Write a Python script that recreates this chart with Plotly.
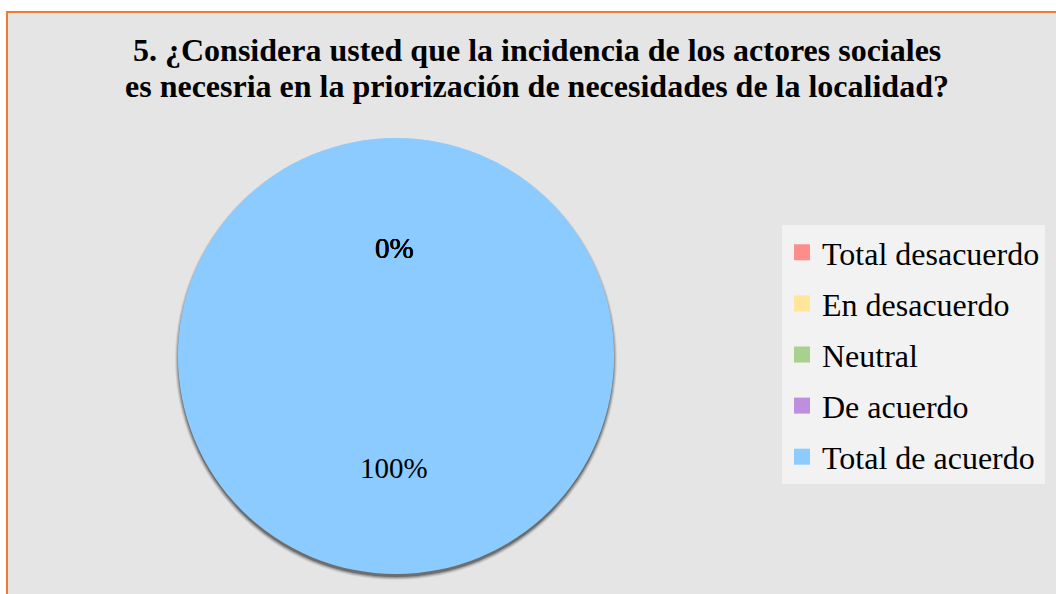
import plotly.graph_objects as go

# Datos de la pregunta 5
categorias = ['Total desacuerdo', 'En desacuerdo', 'Neutral', 'De acuerdo', 'Total de acuerdo']
valores = [0, 0, 0, 0, 100]
colores = ['#FF8C8C', '#FFE699', '#A9D18E', '#BF8FDF', '#8BCBFF']
titulo = ['5. ¿Considera usted que la incidencia de los actores sociales',
          'es necesria en la priorización de necesidades de la localidad?']

W, H = 1056, 594
fuente = 'Liberation Serif'

# centro y radio del pastel en pixeles
cx, cy, r = 396, 356, 218

total = sum(valores)
porcentajes = ['{:.0f}%'.format(v / total * 100) for v in valores]

fig = go.Figure()

fig.add_trace(go.Pie(
    labels=categorias,
    values=valores,
    sort=False,
    direction='clockwise',
    marker=dict(colors=colores, line=dict(width=0)),
    textinfo='none',
    hoverinfo='skip',
    showlegend=False,
    domain=dict(x=[(cx - r) / W, (cx + r) / W],
                y=[(H - cy - r) / H, (H - cy + r) / H]),
))

# entradas de la leyenda (una por categoría, separadas como en Excel)
for cat, c in zip(categorias, colores):
    fig.add_trace(go.Scatter(
        x=[None], y=[None], mode='markers', name=cat, legendgroup=cat,
        marker=dict(symbol='square', size=16, color=c, line=dict(width=0)),
        hoverinfo='skip',
    ))

shapes = [
    # fondo del gráfico con borde naranja
    dict(type='rect', xref='paper', yref='paper', layer='below',
         x0=7 / W, x1=1.02, y0=-0.02, y1=1 - 12 / H,
         fillcolor='#E5E5E5', line=dict(color='#ED7D31', width=2)),
]
# sombra del pastel
for i, op in enumerate([0.08, 0.12, 0.18, 0.28]):
    rr = r + 3 - i
    shapes.append(dict(type='circle', xref='paper', yref='paper', layer='below',
                       x0=(cx - rr) / W, x1=(cx + rr) / W,
                       y0=(H - cy - 3 - rr) / H, y1=(H - cy - 3 + rr) / H,
                       fillcolor='rgba(0,0,0,{})'.format(op), line=dict(width=0)))

annotations = []
for i, linea in enumerate(titulo):
    annotations.append(dict(text=linea, xref='paper', yref='paper',
                            x=537 / W, y=1 - (50 + 36 * i) / H, xanchor='center', yanchor='middle',
                            showarrow=False,
                            font=dict(family=fuente, weight='bold', size=32, color='black')))

# etiquetas de porcentaje (las de 0% quedan superpuestas arriba)
for cat, p, v in zip(categorias, porcentajes, valores):
    ly = 248 if v == 0 else 468
    annotations.append(dict(text=p, xref='paper', yref='paper',
                            x=394 / W, y=1 - ly / H, xanchor='center', yanchor='middle',
                            showarrow=False, font=dict(family=fuente, size=29, color='black')))

fig.update_layout(
    width=W, height=H,
    margin=dict(l=0, r=0, t=0, b=0),
    paper_bgcolor='white',
    plot_bgcolor='rgba(0,0,0,0)',
    xaxis=dict(visible=False),
    yaxis=dict(visible=False),
    shapes=shapes,
    annotations=annotations,
    showlegend=True,
    legend=dict(
        x=782 / W, y=1 - 225 / H, xanchor='left', yanchor='top',
        bgcolor='#F2F2F2', borderwidth=0,
        font=dict(family=fuente, size=32, color='black'),
        traceorder='grouped', tracegroupgap=6.5,
    ),
)

fig.write_html('out.html', config={'displayModeBar': False},
               post_script="document.body.style.margin='0';")
